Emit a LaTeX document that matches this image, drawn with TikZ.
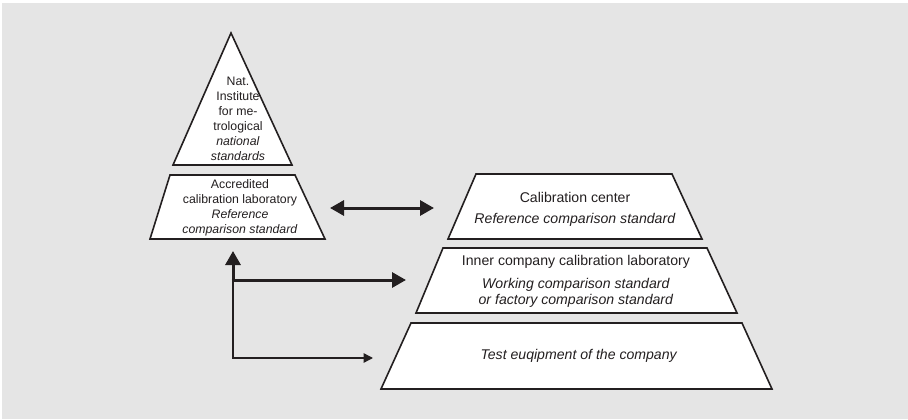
\documentclass[tikz,border=0pt]{standalone}
\usepackage{fontspec}
\setmainfont{Liberation Sans}
\usetikzlibrary{arrows.meta}
\definecolor{bg}{HTML}{E5E5E5}
\definecolor{ink}{HTML}{231F20}
\begin{document}
\begin{tikzpicture}[x=1pt,y=-1pt,
  level/.style={draw=ink,line width=1.6pt,fill=white,line join=miter},
  lbl/.style={align=center,inner sep=0pt,font=\fontsize{14.1}{16}\selectfont,text=ink},
  lbls/.style={align=center,inner sep=0pt,font=\fontsize{12.3}{15}\selectfont,text=ink},
  thickarr/.style={draw=ink,line width=3pt,-{Triangle[length=14pt,width=15pt]}},
  thinarr/.style={draw=ink,line width=1.4pt,-{Triangle[length=9.5pt,width=9.5pt]}}]
\useasboundingbox (0,0) rectangle (908,420);
\fill[white] (0,0) rectangle (908,420);
\fill[bg] (2,3) rectangle (908,419);
% pyramid left
\draw[level] (231,33) -- (292,165) -- (173,165) -- cycle;
\node[lbls] (nat) at (238,119) {Nat.\\Institute\\for me-\\trological\\\textit{national}\\\textit{standards}};
\draw[level] (170,175) -- (295,175) -- (325,239) -- (150,239) -- cycle;
\node[lbls] (acc) at (240,208) {Accredited\\calibration laboratory\\\textit{Reference}\\\textit{comparison standard}};
% right pyramid
\draw[level] (476,174) -- (672,174) -- (702,239) -- (448,239) -- cycle;
\node[lbl] (cal1) at (575,197) {Calibration center};
\node[lbl] (cal2) at (575,220) {\textit{Reference comparison standard}};
\draw[level] (443,248) -- (707,248) -- (737,313) -- (416,313) -- cycle;
\node[lbl] (inn1) at (576,262) {Inner company calibration laboratory};
\node[lbl] (inn2) at (576,293) {\textit{Working comparison standard}\\\textit{or factory comparison standard}};
\draw[level] (411,323) -- (742,323) -- (772,389) -- (381,389) -- cycle;
\node[lbl] (test) at (579,356) {\textit{Test euqipment of the company}};
% connectors
\coordinate (dl) at (330,208);
\coordinate (dr) at (434,208);
\draw[draw=ink,line width=3pt,{Triangle[length=14pt,width=15pt]}-{Triangle[length=14pt,width=15pt]}] (dl) -- (dr);
\coordinate (c1) at (233,280);
\coordinate (c2) at (233,358);
\coordinate (up) at (233,251);
\coordinate (r1) at (406,280);
\coordinate (r2) at (373,358);
\draw[draw=ink,line width=1.4pt] (c2) -- (c1);
\draw[thickarr] ([yshift=-1.5pt]c1) -- (up);
\draw[thickarr] ([xshift=-1.5pt]c1) -- (r1);
\draw[thinarr] ([xshift=-0.7pt]c2) -- (r2);
\end{tikzpicture}
\end{document}
